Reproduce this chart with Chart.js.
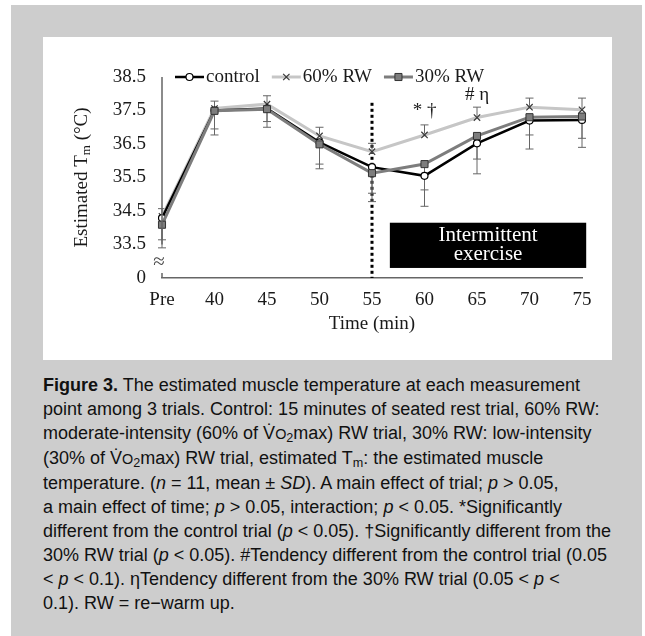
<!DOCTYPE html>
<html>
<head>
<meta charset="utf-8">
<script src="https://cdn.jsdelivr.net/npm/chart.js@4.4.1/dist/chart.umd.min.js"></script>
<style>
  body { margin: 0; width: 645px; height: 636px; background: #fff; position: relative; overflow: hidden; }
  #sheet { position: absolute; left: 11px; top: 5px; width: 631px; height: 631px; background: #cdcdcd; }
  #panel { position: absolute; left: 43px; top: 37px; width: 569px; height: 323px; background: #fff; }
  #caption { position: absolute; left: 43px; top: 373px; font-family: "Liberation Sans", Arial, sans-serif;
             font-size: 18px; line-height: 24px; color: #111; white-space: nowrap; }
  #caption b { font-weight: bold; }
  .sc { font-size: 0.8em; }
  sub { font-size: 0.7em; vertical-align: -0.25em; line-height: 0; }
</style>
</head>
<body>
<div id="sheet"></div>
<div id="panel"><canvas id="chart"></canvas></div>
<div id="caption">
  <div><b>Figure 3.</b> The estimated muscle temperature at each measurement</div>
  <div>point among 3 trials. Control: 15 minutes of seated rest trial, 60% RW:</div>
  <div>moderate-intensity (60% of V&#775;<span class="sc">O</span><sub>2</sub>max) RW trial, 30% RW: low-intensity</div>
  <div>(30% of V&#775;<span class="sc">O</span><sub>2</sub>max) RW trial, estimated T<sub>m</sub>: the estimated muscle</div>
  <div>temperature. (<i>n</i> = 11, mean ± <i>SD</i>). A main effect of trial; <i>p</i> &gt; 0.05,</div>
  <div>a main effect of time; <i>p</i> &gt; 0.05, interaction; <i>p</i> &lt; 0.05. *Significantly</div>
  <div>different from the control trial (<i>p</i> &lt; 0.05). †Significantly different from the</div>
  <div>30% RW trial (<i>p</i> &lt; 0.05). #Tendency different from the control trial (0.05</div>
  <div>&lt; <i>p</i> &lt; 0.1). ηTendency different from the 30% RW trial (0.05 &lt; <i>p</i> &lt;</div>
  <div>0.1). RW = re−warm up.</div>
</div>
<script>
// measurement points
const timeLabels = ['Pre', '40', '45', '50', '55', '60', '65', '70', '75'];

// estimated Tm, mean and SD per trial
const controlMean = [34.29, 37.50, 37.56, 36.55, 35.81, 35.55, 36.52, 37.20, 37.22];
const controlSD   = [0.89, 0.73, 0.56, 0.79, 1.03, 0.91, 0.91, 0.85, 0.82];
const rw60Mean    = [34.34, 37.56, 37.69, 36.74, 36.27, 36.77, 37.29, 37.60, 37.52];
const rw60SD      = [0.23, 0.22, 0.25, 0.26, 0.25, 0.30, 0.31, 0.27, 0.35];
const rw30Mean    = [34.09, 37.49, 37.54, 36.49, 35.63, 35.90, 36.74, 37.30, 37.32];
const rw30SD      = [0.45, 0.54, 0.37, 0.59, 0.60, 0.77, 0.69, 0.53, 0.65];

// y axis is broken: the bottom tick stands for 0
const yTickValues = [32.5, 33.5, 34.5, 35.5, 36.5, 37.5, 38.5];
const yTickLabels = ['0', '33.5', '34.5', '35.5', '36.5', '37.5', '38.5'];

// significance marks (index of time point, height)
const markLabels = ['* †', '# η'];
const markIndex  = [5, 6];
const markValue  = [37.48, 37.96];

// exercise period
const exerciseStart = 4;   // dotted line at 55 min
const boxFrom = 4.34, boxTo = 8.08, boxTop = 34.15, boxBottom = 32.8;

const serif = '"Liberation Serif", "Times New Roman", serif';
const textColor = '#1a1a1a';

const errorBars = [
    { sd: controlSD, dir: -1 },
    { sd: rw60SD, dir: 1 },
    { sd: rw30SD, dir: -1 }
];

const overlay = {
    id: 'overlay',
    beforeDatasetsDraw(chart) {
        const ctx = chart.ctx;
        const x = chart.scales.x, y = chart.scales.y;
        const area = chart.chartArea;

        // dotted line at start of intermittent exercise
        ctx.save();
        ctx.strokeStyle = '#000';
        ctx.lineWidth = 3;
        ctx.setLineDash([3, 3]);
        ctx.beginPath();
        ctx.moveTo(x.getPixelForValue(exerciseStart), y.getPixelForValue(37.73));
        ctx.lineTo(x.getPixelForValue(exerciseStart), area.bottom);
        ctx.stroke();
        ctx.restore();

        // error bars (one side each)
        ctx.save();
        ctx.strokeStyle = '#666';
        ctx.lineWidth = 1;
        errorBars.forEach((eb, di) => {
            const meta = chart.getDatasetMeta(di);
            const data = chart.data.datasets[di].data;
            meta.data.forEach((pt, i) => {
                const yEnd = y.getPixelForValue(data[i] + eb.dir * eb.sd[i]);
                ctx.beginPath();
                ctx.moveTo(pt.x, pt.y);
                ctx.lineTo(pt.x, yEnd);
                ctx.moveTo(pt.x - 4, yEnd);
                ctx.lineTo(pt.x + 4, yEnd);
                ctx.stroke();
            });
        });
        ctx.restore();
    },
    afterDraw(chart) {
        const ctx = chart.ctx;
        const x = chart.scales.x, y = chart.scales.y;
        const area = chart.chartArea;

        // broken y axis
        ctx.save();
        ctx.strokeStyle = '#666';
        ctx.lineWidth = 1.5;
        ctx.beginPath();
        ctx.moveTo(area.left, y.getPixelForValue(38.5));
        ctx.lineTo(area.left, y.getPixelForValue(33.5));
        ctx.moveTo(area.left, y.getPixelForValue(32.65));
        ctx.lineTo(area.left, area.bottom);
        ctx.stroke();
        ctx.fillStyle = '#444';
        ctx.font = '21px ' + serif;
        ctx.textAlign = 'center';
        ctx.textBaseline = 'middle';
        ctx.fillText('≈', area.left - 3, y.getPixelForValue(32.97));
        ctx.restore();

        // exercise box
        ctx.save();
        const bx0 = x.getPixelForValue(boxFrom), bx1 = x.getPixelForValue(boxTo);
        const by0 = y.getPixelForValue(boxTop), by1 = y.getPixelForValue(boxBottom);
        ctx.fillStyle = '#000';
        ctx.fillRect(bx0, by0, bx1 - bx0, by1 - by0);
        ctx.fillStyle = '#fff';
        ctx.font = '21px ' + serif;
        ctx.textAlign = 'center';
        ctx.textBaseline = 'middle';
        const cx = (bx0 + bx1) / 2, cy = (by0 + by1) / 2;
        ctx.fillText('Intermittent', cx, cy - 10);
        ctx.fillText('exercise', cx, cy + 9);
        ctx.restore();

        // significance marks
        ctx.save();
        ctx.fillStyle = textColor;
        ctx.font = '19px ' + serif;
        ctx.textAlign = 'center';
        ctx.textBaseline = 'middle';
        markLabels.forEach((m, i) => {
            ctx.fillText(m, x.getPixelForValue(markIndex[i]), y.getPixelForValue(markValue[i]));
        });
        ctx.restore();

        // y axis title with subscript
        ctx.save();
        ctx.translate(area.left - 80, (area.top + area.bottom) / 2);
        ctx.rotate(-Math.PI / 2);
        ctx.fillStyle = textColor;
        ctx.textBaseline = 'middle';
        const big = '19px ' + serif, small = '13px ' + serif;
        ctx.font = big;
        const w1 = ctx.measureText('Estimated T').width;
        const w3 = ctx.measureText(' (°C)').width;
        ctx.font = small;
        const w2 = ctx.measureText('m').width;
        let tx = -(w1 + w2 + w3) / 2;
        ctx.font = big;
        ctx.fillText('Estimated T', tx, 0);
        ctx.font = small;
        ctx.fillText('m', tx + w1, 5);
        ctx.font = big;
        ctx.fillText(' (°C)', tx + w1 + w2, 0);
        ctx.restore();

        // legend: short line with marker, then label
        ctx.save();
        ctx.font = '19px ' + serif;
        ctx.textBaseline = 'middle';
        ctx.textAlign = 'left';
        let lx = area.left + 13;
        const ly = area.top;
        chart.data.datasets.forEach(ds => {
            ctx.strokeStyle = ds.borderColor;
            ctx.lineWidth = ds.borderWidth;
            ctx.beginPath();
            ctx.moveTo(lx, ly);
            ctx.lineTo(lx + 29, ly);
            ctx.stroke();
            ctx.fillStyle = ds.pointBackgroundColor;
            ctx.strokeStyle = ds.pointBorderColor;
            ctx.lineWidth = ds.pointBorderWidth;
            Chart.helpers.drawPoint(ctx, {
                pointStyle: ds.pointStyle, radius: ds.pointRadius,
                borderWidth: ds.pointBorderWidth, rotation: 0
            }, lx + 14.5, ly);
            ctx.fillStyle = textColor;
            ctx.fillText(ds.label, lx + 31, ly);
            lx += 31 + ctx.measureText(ds.label).width + 12;
        });
        ctx.restore();
    }
};

document.addEventListener('DOMContentLoaded', () => {
    const ctx = document.getElementById('chart').getContext('2d');
    new Chart(ctx, {
        type: 'line',
        data: {
            labels: timeLabels,
            datasets: [{
                label: 'control',
                data: controlMean,
                borderColor: '#000',
                borderWidth: 2.5,
                pointStyle: 'circle',
                pointRadius: 3.5,
                pointBackgroundColor: '#fff',
                pointBorderColor: '#000',
                pointBorderWidth: 1.2,
                order: 2
            }, {
                label: '60% RW',
                data: rw60Mean,
                borderColor: '#c6c6c6',
                borderWidth: 3,
                pointStyle: 'crossRot',
                pointRadius: 4.5,
                pointBackgroundColor: '#3a3a3a',
                pointBorderColor: '#3a3a3a',
                pointBorderWidth: 1.2,
                order: 3
            }, {
                label: '30% RW',
                data: rw30Mean,
                borderColor: '#7d7d7d',
                borderWidth: 3,
                pointStyle: 'rect',
                pointRadius: 5,
                pointBackgroundColor: '#7d7d7d',
                pointBorderColor: '#333',
                pointBorderWidth: 1,
                order: 1
            }]
        },
        options: {
            responsive: true,
            maintainAspectRatio: false,
            animation: false,
            layout: { padding: { top: 40, right: 30, bottom: 0, left: 0 } },
            plugins: {
                legend: { display: false },
                tooltip: { enabled: false }
            },
            scales: {
                x: {
                    grid: { display: false, drawTicks: false },
                    border: { display: true, color: '#666', width: 1.5 },
                    ticks: { color: textColor, font: { family: serif, size: 19 }, padding: 11 },
                    title: {
                        display: true, text: 'Time (min)', color: textColor,
                        font: { family: serif, size: 19 }, padding: { top: 0, bottom: 25 }
                    },
                    afterFit: scale => { scale.height = 82; }
                },
                y: {
                    min: 32.5,
                    max: 38.5,
                    grid: { display: false, drawTicks: false },
                    border: { display: false },
                    afterBuildTicks: scale => {
                        scale.ticks = yTickValues.map(v => ({ value: v }));
                    },
                    ticks: {
                        color: textColor,
                        font: { family: serif, size: 19 },
                        padding: 16,
                        callback: value => yTickLabels[yTickValues.indexOf(value)]
                    },
                    afterFit: scale => { scale.width = 119; }
                }
            }
        },
        plugins: [overlay]
    });
});
</script>
</body>
</html>
